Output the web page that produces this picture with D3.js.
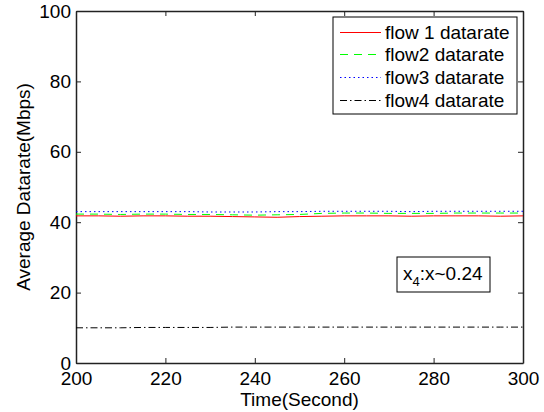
<!DOCTYPE html>
<html lang="en">
  <head>
    <meta charset="UTF-8">
    <title>Average Datarate</title>
    <style>
      body { margin: 0; background: #fff; }
      text { font-family: "Liberation Sans", Arial, sans-serif; }
    </style>
  </head>
  <body>
    <div id="chart-container"></div>
    <script src="https://d3js.org/d3.v7.min.js"></script>
    <script>
      // data
      const time = [200, 205, 210, 215, 220, 225, 230, 235, 240, 245, 250, 255, 260, 265, 270, 275, 280, 285, 290, 295, 300];
      const flow1 = [41.8, 41.8, 41.7, 41.8, 41.8, 41.7, 41.7, 41.6, 41.5, 41.4, 41.6, 41.7, 41.8, 41.8, 41.8, 41.7, 41.8, 41.8, 41.8, 41.7, 41.8];
      const flow2 = [42.3, 42.3, 42.2, 42.3, 42.3, 42.2, 42.2, 42.1, 42.0, 42.1, 42.2, 42.5, 42.6, 42.6, 42.5, 42.5, 42.5, 42.6, 42.6, 42.6, 42.6];
      const flow3 = [43.0, 43.0, 43.0, 43.0, 43.0, 43.0, 42.9, 42.9, 42.9, 43.0, 43.0, 43.1, 43.1, 43.1, 43.1, 43.0, 43.1, 43.1, 43.1, 43.1, 43.1];
      const flow4 = [10.0, 10.0, 10.0, 10.1, 10.1, 10.1, 10.1, 10.2, 10.2, 10.2, 10.2, 10.2, 10.2, 10.2, 10.2, 10.2, 10.2, 10.2, 10.2, 10.2, 10.2];
      const seriesNames = ["flow 1 datarate", "flow2 datarate", "flow3 datarate", "flow4 datarate"];
      const xTicks = [200, 220, 240, 260, 280, 300];
      const yTicks = [0, 20, 40, 60, 80, 100];

      const W = 544, H = 412;
      const margin = { top: 11, right: 21, bottom: 49, left: 76 };
      const width = W - margin.left - margin.right;
      const height = H - margin.top - margin.bottom;
      const fs = "19px";

      const svg = d3.select("#chart-container")
        .append("svg")
        .attr("width", W)
        .attr("height", H);
      const g = svg.append("g")
        .attr("transform", "translate(" + margin.left + "," + margin.top + ")");

      const x = d3.scaleLinear().domain([200, 300]).range([0, width]);
      const y = d3.scaleLinear().domain([0, 100]).range([height, 0]);

      // axes, MATLAB style with inward ticks on all four sides
      const tick = 5;
      const xAxis = g.append("g")
        .attr("transform", "translate(0," + height + ")")
        .call(d3.axisBottom(x).tickValues(xTicks).tickSizeInner(-tick).tickSizeOuter(0).tickPadding(9));
      const xTop = g.append("g")
        .call(d3.axisTop(x).tickValues(xTicks).tickSizeInner(-tick).tickSizeOuter(0).tickFormat(""));
      const yAxis = g.append("g")
        .call(d3.axisLeft(y).tickValues(yTicks).tickSizeInner(-tick).tickSizeOuter(0).tickPadding(5));
      const yRight = g.append("g")
        .attr("transform", "translate(" + width + ",0)")
        .call(d3.axisRight(y).tickValues(yTicks).tickSizeInner(-tick).tickSizeOuter(0).tickFormat(""));

      [xAxis, xTop, yAxis, yRight].forEach(a => {
        a.select(".domain").attr("stroke", "#222").attr("stroke-width", 1.5);
        a.selectAll(".tick line").attr("stroke", "#222").attr("stroke-width", 1);
        a.selectAll(".tick text")
          .style("font-size", fs)
          .style("font-family", "'Liberation Sans', Arial, sans-serif")
          .attr("fill", "#000");
      });
      xAxis.selectAll(".tick text").attr("dy", "0.71em");

      // series
      const styles = [
        { data: flow1, color: "#ff0000", dash: null },
        { data: flow2, color: "#00ff00", dash: "8,6" },
        { data: flow3, color: "#0000ff", dash: "1.5,3" },
        { data: flow4, color: "#000000", dash: "7,3,1.5,3" }
      ];

      const line = d3.line()
        .x((d, i) => x(time[i]))
        .y(d => y(d));

      styles.forEach(s => {
        g.append("path")
          .datum(s.data)
          .attr("fill", "none")
          .attr("stroke", s.color)
          .attr("stroke-width", 1)
          .attr("stroke-dasharray", s.dash)
          .attr("d", line);
      });

      // legend
      const legend = svg.append("g").attr("transform", "translate(333,17)");
      legend.append("rect")
        .attr("width", 184).attr("height", 97)
        .attr("fill", "#fff").attr("stroke", "#000").attr("stroke-width", 1);
      styles.forEach((s, i) => {
        const ly = Math.round(14.5 + i * 22.8) + 0.5;
        legend.append("line")
          .attr("x1", 7).attr("x2", 48)
          .attr("y1", ly).attr("y2", ly)
          .attr("stroke", s.color)
          .attr("stroke-width", 1)
          .attr("stroke-dasharray", s.dash);
        legend.append("text")
          .attr("x", 52).attr("y", ly + 6.5)
          .style("font-size", fs)
          .text(seriesNames[i]);
      });

      // annotation box
      const note = svg.append("g").attr("transform", "translate(397,257)");
      note.append("rect")
        .attr("width", 93).attr("height", 35)
        .attr("fill", "#fff").attr("stroke", "#000").attr("stroke-width", 1);
      const nt = note.append("text")
        .attr("x", 6).attr("y", 23)
        .style("font-size", fs);
      nt.append("tspan").text("x");
      nt.append("tspan").attr("dy", 6).style("font-size", "13px").text("4");
      nt.append("tspan").attr("dy", -6).text(":x~0.24");

      // axis labels
      svg.append("text")
        .attr("text-anchor", "middle")
        .attr("x", margin.left + width / 2)
        .attr("y", 406)
        .style("font-size", fs)
        .text("Time(Second)");

      svg.append("text")
        .attr("transform", "translate(30," + (margin.top + height / 2) + ") rotate(-90)")
        .attr("text-anchor", "middle")
        .style("font-size", fs)
        .text("Average Datarate(Mbps)");
    </script>
  </body>
</html>
